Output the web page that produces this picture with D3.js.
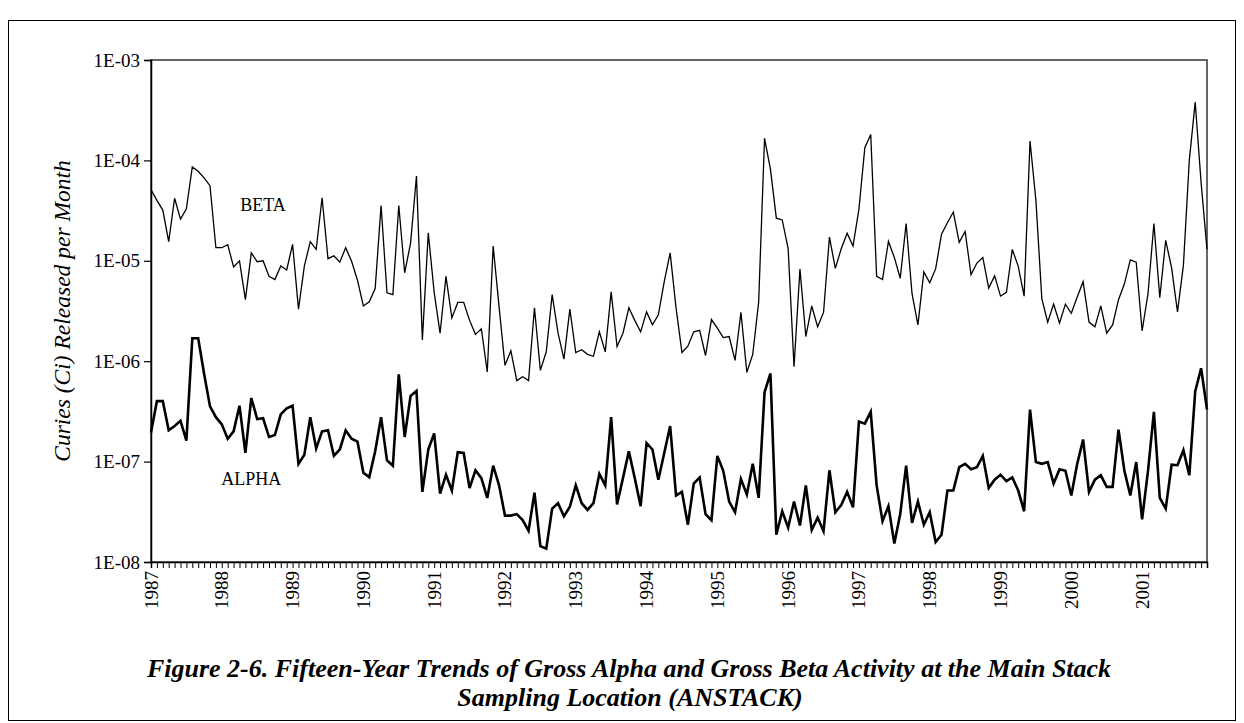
<!DOCTYPE html>
<html>
<head>
<meta charset="utf-8">
<script src="https://cdn.jsdelivr.net/npm/d3@7"></script>
<style>
  html, body { margin: 0; padding: 0; background: #fff; }
  svg { display: block; }
  text { font-family: "Liberation Serif", "Times New Roman", serif; fill: #000; }
</style>
</head>
<body>
<svg id="chart" width="1244" height="723"></svg>
<script>
// ---- data (monthly, Jan 1987 – Dec 2001) ----
const years = ["1987","1988","1989","1990","1991","1992","1993","1994","1995","1996","1997","1998","1999","2000","2001"];
const yTicks = [1e-8, 1e-7, 1e-6, 1e-5, 1e-4, 1e-3];
const beta = [
  5.1e-5,4.0e-5,3.2e-5,1.55e-5,4.2e-5,2.6e-5,3.3e-5,8.6e-5,7.8e-5,6.7e-5,5.6e-5,1.35e-5,
  1.35e-5,1.45e-5,8.7e-6,1.0e-5,4.1e-6,1.2e-5,9.8e-6,1.0e-5,7.0e-6,6.5e-6,8.9e-6,8.1e-6,
  1.46e-5,3.3e-6,8.9e-6,1.55e-5,1.3e-5,4.25e-5,1.05e-5,1.12e-5,9.7e-6,1.35e-5,9.9e-6,6.4e-6,
  3.55e-6,3.9e-6,5.3e-6,3.55e-5,4.8e-6,4.6e-6,3.55e-5,7.6e-6,1.5e-5,7.0e-5,1.63e-6,1.9e-5,
  4.85e-6,1.9e-6,7.0e-6,2.7e-6,3.85e-6,3.85e-6,2.55e-6,1.85e-6,2.1e-6,7.8e-7,1.4e-5,3.5e-6,
  9.1e-7,1.27e-6,6.4e-7,7.0e-7,6.4e-7,3.4e-6,8.1e-7,1.24e-6,4.6e-6,1.9e-6,1.05e-6,3.3e-6,
  1.22e-6,1.3e-6,1.17e-6,1.12e-6,1.96e-6,1.24e-6,4.9e-6,1.4e-6,1.9e-6,3.4e-6,2.55e-6,1.96e-6,
  3.1e-6,2.3e-6,2.9e-6,6.2e-6,1.2e-5,3.4e-6,1.22e-6,1.41e-6,1.96e-6,2.03e-6,1.14e-6,2.6e-6,
  2.13e-6,1.72e-6,1.76e-6,1.02e-6,3.06e-6,7.75e-7,1.17e-6,3.85e-6,1.66e-4,8.2e-5,2.66e-5,2.55e-5,
  1.32e-5,8.8e-7,8.3e-6,1.76e-6,3.55e-6,2.2e-6,3.06e-6,1.72e-5,8.4e-6,1.32e-5,1.88e-5,1.4e-5,
  3.27e-5,1.34e-4,1.81e-4,7.0e-6,6.5e-6,1.56e-5,1.08e-5,6.7e-6,2.35e-5,4.7e-6,2.3e-6,7.75e-6,
  6.05e-6,8.3e-6,1.84e-5,2.39e-5,3.06e-5,1.53e-5,1.96e-5,7.3e-6,9.5e-6,1.08e-5,5.35e-6,7.1e-6,
  4.45e-6,4.85e-6,1.3e-5,8.8e-6,4.45e-6,1.56e-4,4.0e-5,4.2e-6,2.45e-6,3.7e-6,2.4e-6,3.7e-6,
  3.0e-6,4.35e-6,6.2e-6,2.45e-6,2.2e-6,3.55e-6,1.9e-6,2.3e-6,4.1e-6,5.9e-6,1.02e-5,9.7e-6,
  2.0e-6,4.7e-6,2.35e-5,4.3e-6,1.6e-5,8.5e-6,3.1e-6,9.0e-6,1.0e-4,3.8e-4,6.0e-5,1.3e-5
];
const alpha = [
  1.95e-7,4.0e-7,4.0e-7,2.05e-7,2.26e-7,2.55e-7,1.62e-7,1.69e-6,1.69e-6,7.5e-7,3.55e-7,2.77e-7,
  2.35e-7,1.69e-7,2.0e-7,3.6e-7,1.22e-7,4.3e-7,2.65e-7,2.7e-7,1.76e-7,1.84e-7,2.96e-7,3.4e-7,
  3.6e-7,9.5e-8,1.17e-7,2.77e-7,1.35e-7,2.0e-7,2.05e-7,1.14e-7,1.32e-7,2.05e-7,1.69e-7,1.58e-7,
  7.75e-8,7.0e-8,1.27e-7,2.77e-7,1.03e-7,9.1e-8,7.4e-7,1.76e-7,4.5e-7,5.05e-7,5.0e-8,1.32e-7,
  1.91e-7,4.8e-8,7.4e-8,5.15e-8,1.24e-7,1.22e-7,5.45e-8,8.2e-8,6.85e-8,4.35e-8,9.1e-8,5.8e-8,
  2.9e-8,2.9e-8,3.0e-8,2.62e-8,2.05e-8,4.9e-8,1.44e-8,1.36e-8,3.4e-8,3.85e-8,2.85e-8,3.55e-8,
  5.8e-8,3.85e-8,3.3e-8,3.85e-8,7.55e-8,5.8e-8,2.77e-7,3.75e-8,6.85e-8,1.27e-7,6.85e-8,3.6e-8,
  1.53e-7,1.32e-7,6.6e-8,1.22e-7,2.26e-7,4.6e-8,5.0e-8,2.35e-8,6.05e-8,6.95e-8,3.0e-8,2.6e-8,
  1.14e-7,8.1e-8,4.0e-8,3.13e-8,6.7e-8,4.7e-8,9.5e-8,4.35e-8,4.9e-7,7.55e-7,1.87e-8,3.2e-8,
  2.2e-8,4.0e-8,2.31e-8,5.8e-8,2.08e-8,2.77e-8,2.03e-8,8.2e-8,3.13e-8,3.7e-8,5.0e-8,3.5e-8,
  2.51e-7,2.39e-7,3.13e-7,5.8e-8,2.55e-8,3.6e-8,1.53e-8,3.0e-8,9.1e-8,2.45e-8,4.0e-8,2.35e-8,
  3.13e-8,1.58e-8,1.87e-8,5.15e-8,5.15e-8,8.8e-8,9.5e-8,8.4e-8,8.8e-8,1.14e-7,5.45e-8,6.6e-8,
  7.4e-8,6.4e-8,6.95e-8,5.15e-8,3.2e-8,3.3e-7,9.9e-8,9.5e-8,9.9e-8,6.05e-8,8.4e-8,8.1e-8,
  4.6e-8,9.5e-8,1.66e-7,5.0e-8,6.6e-8,7.3e-8,5.6e-8,5.6e-8,2.08e-7,8.1e-8,4.6e-8,9.9e-8,
  2.66e-8,8.1e-8,3.13e-7,4.35e-8,3.4e-8,9.3e-8,9.2e-8,1.3e-7,7.3e-8,5.0e-7,8.5e-7,3.3e-7
];
const seriesLabels = [
  {name: "BETA", month: 19, value: 3.6e-5},
  {name: "ALPHA", month: 17, value: 6.8e-8}
];
const yTitle = "Curies (Ci) Released per Month";
const titleLines = [
  "Figure 2-6. Fifteen-Year Trends of Gross Alpha and Gross Beta Activity at the Main Stack",
  "Sampling Location (ANSTACK)"
];

// ---- layout ----
const svg = d3.select("#chart");
const L = 151, R = 1207, T = 60, B = 562;
const n = beta.length;
const x = d3.scaleLinear().domain([0, n - 1]).range([L, R]);
const y = d3.scaleLog().domain([1e-8, 1e-3]).range([B, T]);

// outer frame
svg.append("rect").attr("x", 8.5).attr("y", 20.5).attr("width", 1227).attr("height", 700)
  .attr("fill", "none").attr("stroke", "#000").attr("stroke-width", 1);

// plot box
svg.append("rect").attr("x", L).attr("y", T).attr("width", R - L).attr("height", B - T)
  .attr("fill", "none").attr("stroke", "#333").attr("stroke-width", 1.5);

// y axis
const yAxis = d3.axisLeft(y).tickValues(yTicks).tickSize(7).tickPadding(4)
  .tickFormat(d => "1E-" + String(Math.round(-Math.log10(d))).padStart(2, "0"));
const gy = svg.append("g").attr("transform", `translate(${L},0)`).call(yAxis);
gy.select(".domain").attr("stroke", "#000").attr("stroke-width", 1.5);
gy.selectAll(".tick line").attr("stroke", "#000").attr("stroke-width", 1.2);
gy.selectAll(".tick text").style("font-family", '"Liberation Serif", serif').style("font-size", "19px").attr("fill", "#000");

// x axis (monthly ticks, yearly labels)
const xAxis = d3.axisBottom(x).tickValues(d3.range(n)).tickSize(6).tickFormat("");
const gx = svg.append("g").attr("transform", `translate(0,${B})`).call(xAxis);
gx.select(".domain").attr("stroke", "#000").attr("stroke-width", 1.5);
gx.selectAll(".tick line").attr("stroke", "#000").attr("stroke-width", 1);

svg.append("g").selectAll("text").data(years).join("text")
  .attr("transform", (d, i) => `translate(${x(i * 12) + 6.5},${B + 9}) rotate(-90)`)
  .attr("text-anchor", "end")
  .style("font-size", "19px")
  .text(d => d);

// lines
const line = d3.line().x((d, i) => x(i)).y(d => y(d));
svg.append("path").datum(beta).attr("d", line)
  .attr("fill", "none").attr("stroke", "#000").attr("stroke-width", 1.3).attr("stroke-linejoin", "miter");
svg.append("path").datum(alpha).attr("d", line)
  .attr("fill", "none").attr("stroke", "#000").attr("stroke-width", 2.6).attr("stroke-linejoin", "miter");

// series labels
svg.append("g").selectAll("text").data(seriesLabels).join("text")
  .attr("x", d => x(d.month)).attr("y", d => y(d.value))
  .attr("text-anchor", "middle").attr("dy", "0.35em")
  .style("font-size", "18px")
  .text(d => d.name);

// y title
svg.append("text")
  .attr("transform", `translate(70,311) rotate(-90)`)
  .attr("text-anchor", "middle")
  .style("font-size", "23.5px").style("font-style", "italic")
  .text(yTitle);

// figure title
const tl = svg.append("g");
tl.append("text").attr("x", 629).attr("y", 677).attr("text-anchor", "middle")
  .style("font-size", "26px").style("font-weight", "bold").style("font-style", "italic")
  .text(titleLines[0]);
tl.append("text").attr("x", 630).attr("y", 706).attr("text-anchor", "middle")
  .style("font-size", "26px").style("font-weight", "bold").style("font-style", "italic")
  .text(titleLines[1]);
</script>
</body>
</html>
